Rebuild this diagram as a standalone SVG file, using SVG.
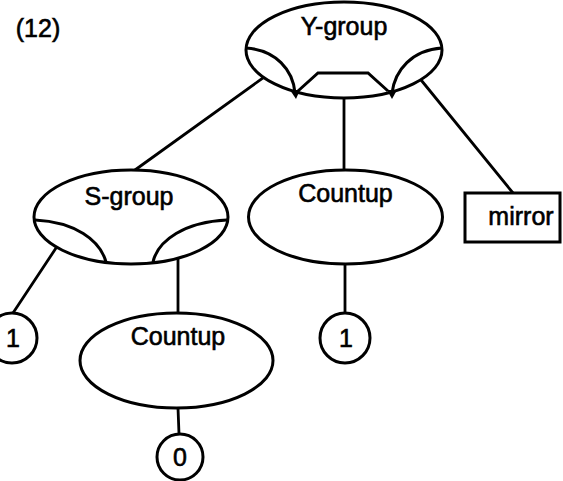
<svg xmlns="http://www.w3.org/2000/svg" width="563" height="481" viewBox="0 0 563 481">
<style>
  .shape { fill: #fff; stroke: #000; stroke-width: 3; }
  .inner { fill: none; stroke: #000; stroke-width: 3; }
  .conn { fill: none; stroke: #000; stroke-width: 2.8; stroke-linecap: round; }
  .lbl { font-family: "Liberation Sans", Arial, sans-serif; font-size: 25px; fill: #000; stroke: #000; stroke-width: 0.6; text-anchor: middle; }
  .tick { fill: #000; }
</style>
<rect width="563" height="481" fill="#fff"/>
<text class="lbl" x="38" y="37" font-size="26">(12)</text>
<g id="connectors">
  <line class="conn" x1="267" y1="75" x2="135" y2="170"/>
  <line class="conn" x1="344" y1="97" x2="344" y2="170"/>
  <line class="conn" x1="417" y1="75" x2="513" y2="193"/>
  <line class="conn" x1="60" y1="242" x2="13" y2="313"/>
  <line class="conn" x1="178" y1="240" x2="178" y2="313"/>
  <line class="conn" x1="345" y1="264" x2="345" y2="313"/>
  <line class="conn" x1="178" y1="408" x2="179" y2="434"/>
</g>
<g id="y-group">
  <ellipse class="shape" cx="344" cy="50" rx="98" ry="48"/>
  <path class="inner" d="M246,48 C276,50 293,70 295,93"/>
  <path class="inner" d="M442,48 C412,50 395,70 392,93"/>
  <path class="inner" d="M298,91 L318,73 L368,73 L388,91"/>
  <path class="tick" d="M290,90 L300,90 L296,99 Z"/>
  <path class="tick" d="M387,90 L397,90 L392,99 Z"/>
  <text class="lbl" x="344" y="35" font-size="26">Y-group</text>
</g>
<g id="s-group">
  <ellipse class="shape" cx="131" cy="217" rx="97" ry="47"/>
  <path class="inner" d="M35,220 C75,222 100,240 106,262"/>
  <path class="inner" d="M227,220 C185,222 158,240 153,262"/>
  <text class="lbl" x="129" y="205" font-size="26">S-group</text>
</g>
<g id="countup-mid">
  <ellipse class="shape" cx="345.5" cy="217" rx="97" ry="47"/>
  <text class="lbl" x="345.5" y="202">Countup</text>
</g>
<g id="mirror">
  <rect class="shape" x="465" y="193" width="95" height="49"/>
  <text class="lbl" x="521" y="225">mirror</text>
</g>
<g id="countup-low">
  <ellipse class="shape" cx="176.5" cy="360.5" rx="96.5" ry="47.5"/>
  <text class="lbl" x="178" y="345">Countup</text>
</g>
<g id="leaf-1-left">
  <circle class="shape" cx="12" cy="338" r="25" stroke-width="2.5"/>
  <text class="lbl" x="13" y="347">1</text>
</g>
<g id="leaf-1-mid">
  <circle class="shape" cx="345" cy="338" r="25" stroke-width="2.5"/>
  <text class="lbl" x="346" y="347">1</text>
</g>
<g id="leaf-0">
  <circle class="shape" cx="180" cy="457" r="23" stroke-width="2.5"/>
  <text class="lbl" x="180" y="466">0</text>
</g>
</svg>
